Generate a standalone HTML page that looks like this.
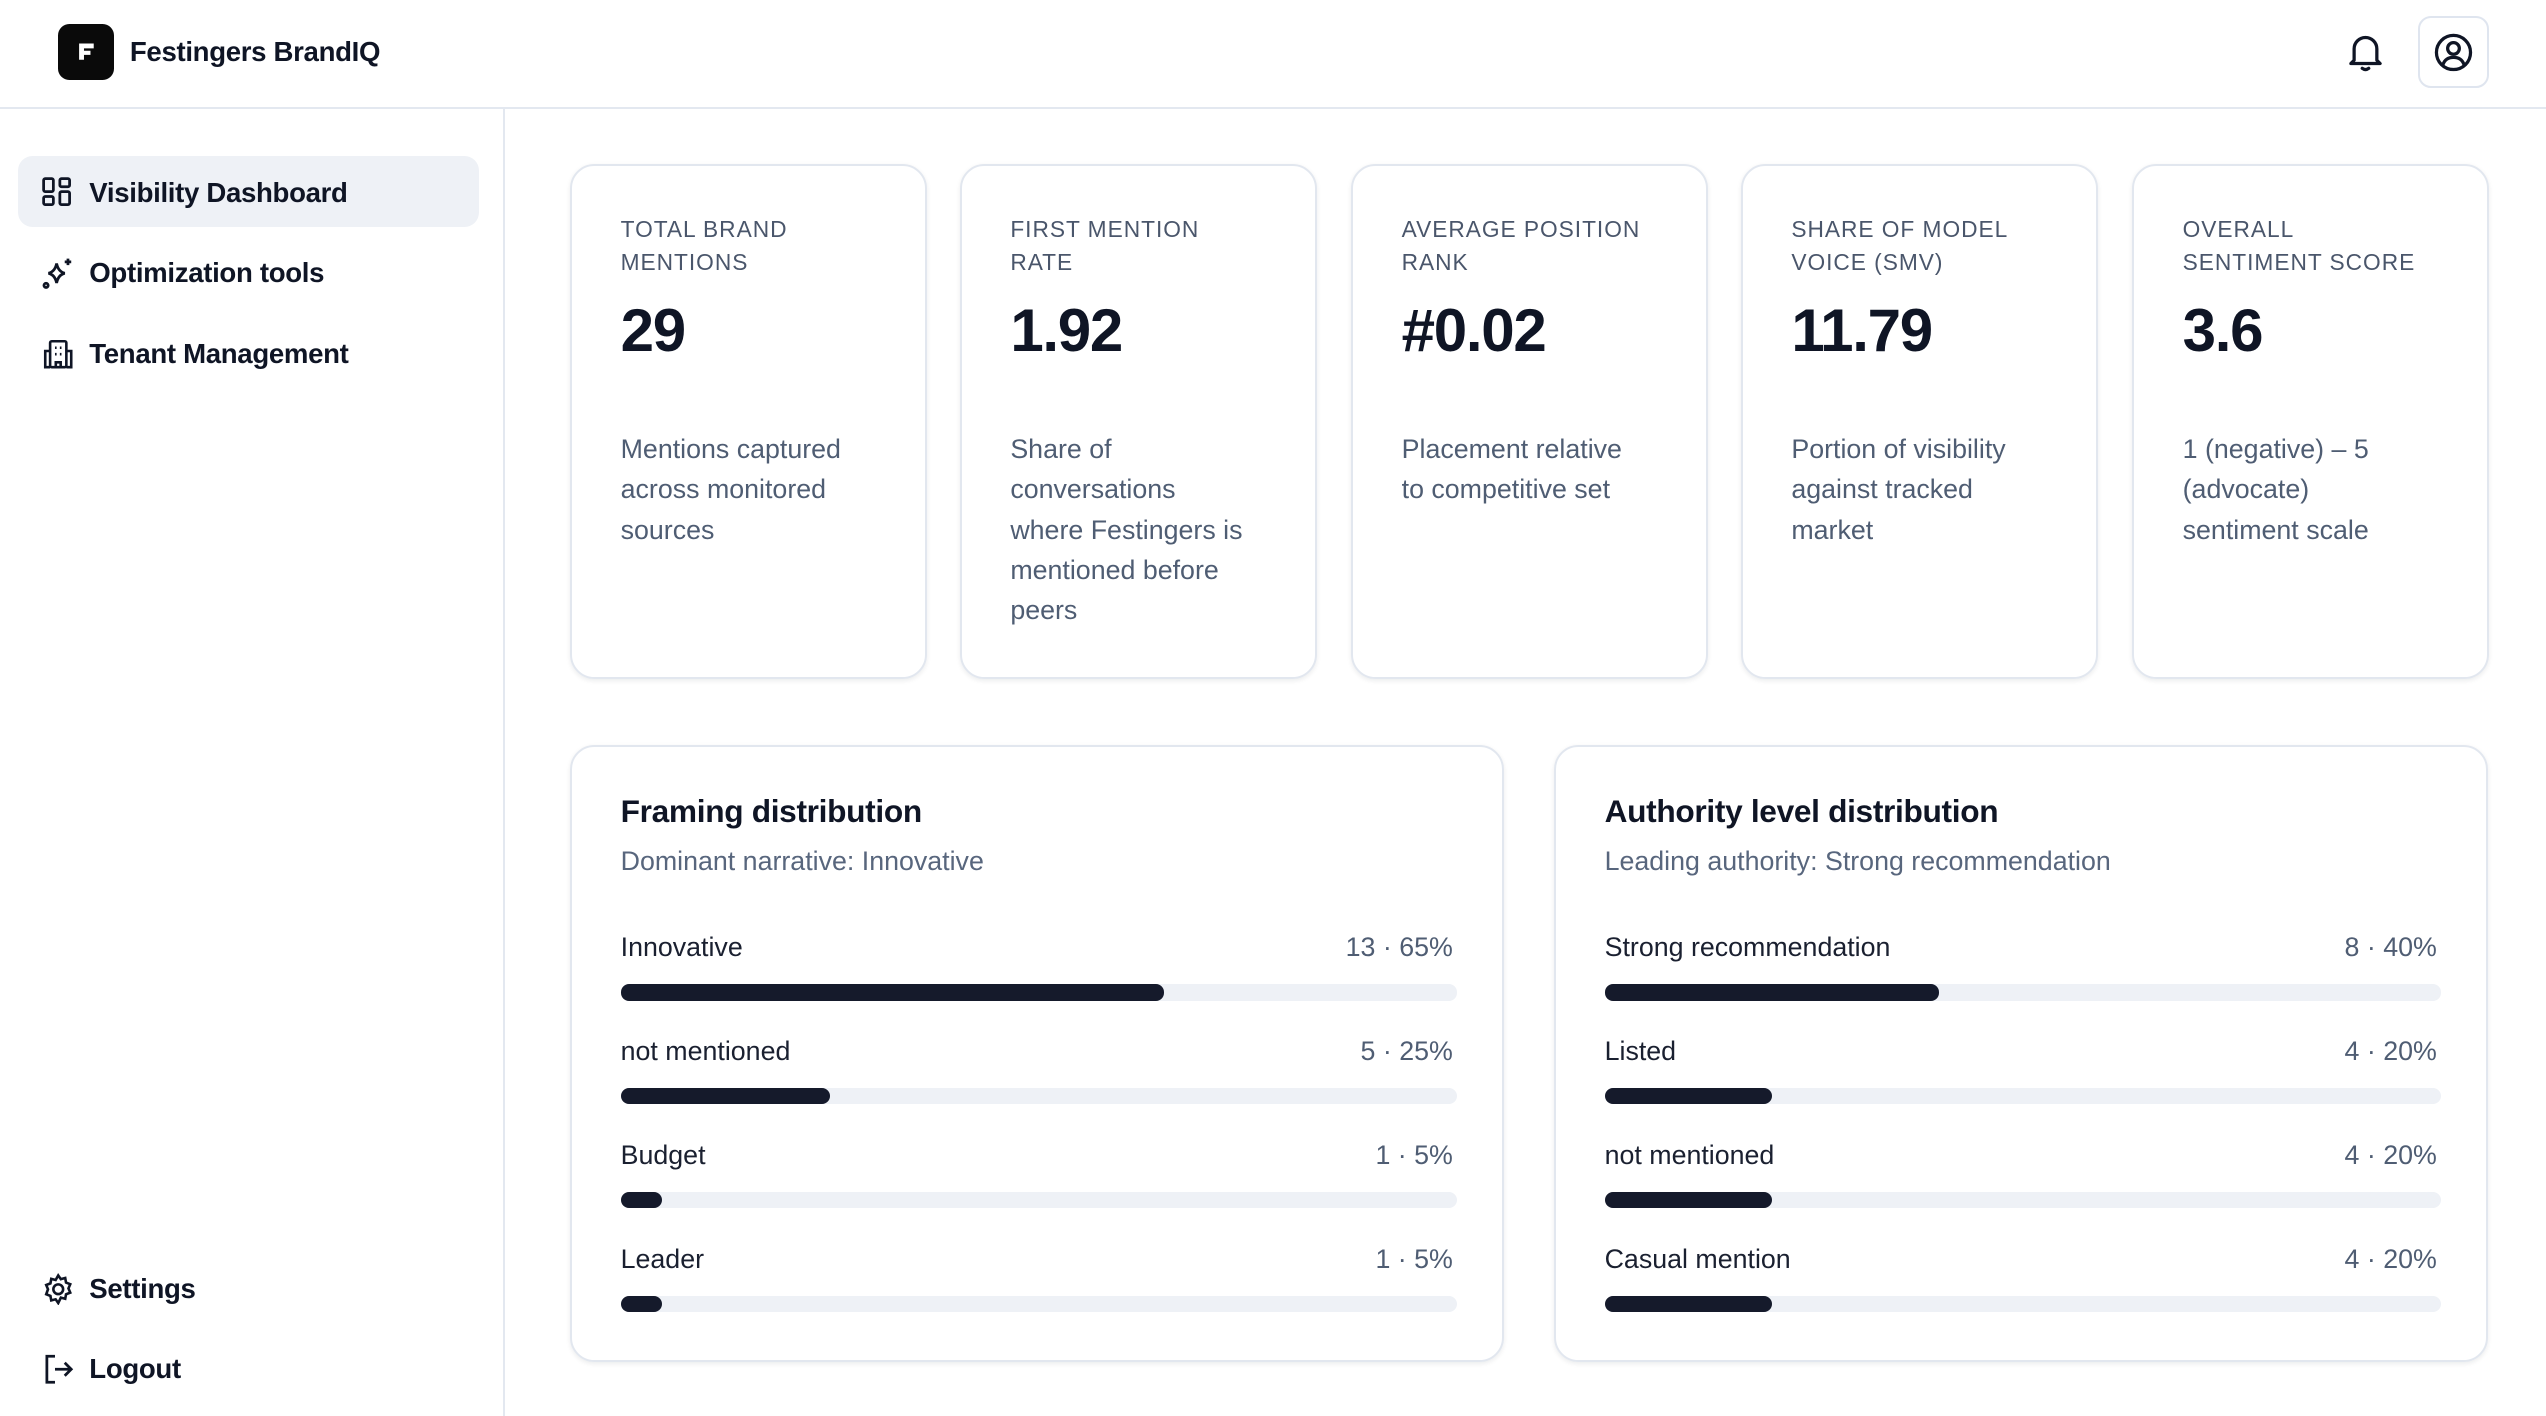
<!DOCTYPE html>
<html><head><meta charset="utf-8">
<style>
*{box-sizing:border-box;margin:0;padding:0}
html,body{width:2546px;height:1416px;overflow:hidden;background:#fff}
#root{zoom:1.62372;width:1568px;height:872px;position:relative;font-family:"Liberation Sans",sans-serif;color:#0f1525}
.abs{position:absolute}
.header{left:0;top:0;width:1568px;height:67px;border-bottom:1.5px solid #e3e8f0}
.logo{left:36px;top:15px;width:34px;height:34px;background:#0a0a0a;border-radius:7px}
.brand{left:80px;top:22px;font-size:17px;font-weight:bold;letter-spacing:-0.2px}
.side{left:0;top:67px;width:311px;height:805px;border-right:1.5px solid #e3e8f0}
.nav{left:11px;width:284px;height:44px;border-radius:9px;font-size:17px;font-weight:bold;letter-spacing:-0.2px}
.nav span{position:absolute;left:44px;top:13px}
.nav svg{position:absolute;left:15px;top:13px}
.card{width:220px;height:317px;top:101px;border:1.5px solid #e2e7ef;border-radius:15px;box-shadow:0 1px 3px rgba(15,23,42,0.08)}
.lbl{position:absolute;left:30px;top:29px;font-size:14px;line-height:20px;color:#4a566b;letter-spacing:0.6px;text-transform:uppercase}
.val{position:absolute;left:30px;top:80px;font-size:37px;font-weight:bold;letter-spacing:-0.8px}
.desc{position:absolute;left:30px;top:162px;font-size:16.5px;line-height:24.8px;color:#4f5d73;width:150px}
.panel{top:459px;width:575px;height:380px;border:1.5px solid #e2e7ef;border-radius:15px;box-shadow:0 1px 3px rgba(15,23,42,0.08)}
.ptitle{position:absolute;left:30px;top:28px;font-size:19.5px;font-weight:bold;letter-spacing:-0.2px}
.psub{position:absolute;left:30px;top:61px;font-size:16.5px;color:#58667d}
.rl{position:absolute;left:30px;font-size:16.5px;color:#1a2030}
.rv{position:absolute;right:30px;font-size:16.5px;color:#4f5d73}
.track{position:absolute;left:30px;width:515px;height:10px;border-radius:5px;background:#eef1f6}
.fill{position:absolute;left:0;top:0;height:10px;border-radius:5px;background:#151a2b}
</style></head><body>
<div id="root">
<div class="abs header">
  <div class="abs logo">
    <svg width="34" height="34" viewBox="0 0 34 34"><path d="M13 12h9v3h-6v1.5h4v2.5h-4v3h-3z" fill="#fff"/></svg>
  </div>
  <div class="abs brand">Festingers BrandIQ</div>
  <svg class="abs" style="left:1445px;top:19px" width="24" height="26" viewBox="0 0 24 26"><path d="M5 18V11a7 7 0 0 1 14 0v7l2 2H3z" fill="none" stroke="#0f1525" stroke-width="2" stroke-linejoin="round"/><path d="M10 23q2 1.5 4 0" fill="none" stroke="#0f1525" stroke-width="2" stroke-linecap="round"/></svg>
  <div class="abs" style="left:1489px;top:10px;width:44px;height:44px;border:1.5px solid #dfe5ef;border-radius:8px">
    <svg style="position:absolute;left:9px;top:9px" width="24" height="24" viewBox="0 0 24 24"><circle cx="12" cy="12" r="10.5" fill="none" stroke="#0f1525" stroke-width="2"/><circle cx="12" cy="9.5" r="3.6" fill="none" stroke="#0f1525" stroke-width="2"/><path d="M5.5 19.5q1.5-4.5 6.5-4.5t6.5 4.5" fill="none" stroke="#0f1525" stroke-width="2"/></svg>
  </div>
</div>
<div class="abs side">
  <div class="abs nav" style="top:29px;background:#eef1f6">
    <svg width="18" height="18" viewBox="0 0 18 18" fill="none" stroke="#0f1525" stroke-width="1.7"><rect x="1" y="1" width="6" height="8" rx="1"/><rect x="11" y="1" width="6" height="5" rx="1"/><rect x="1" y="12" width="6" height="5" rx="1"/><rect x="11" y="9" width="6" height="8" rx="1"/></svg>
    <span>Visibility Dashboard</span></div>
  <div class="abs nav" style="top:78px">
    <svg width="20" height="20" viewBox="0 0 20 20" fill="none" stroke="#0f1525" stroke-width="1.7"><path d="M9 4q1 5 5 6q-4 1-5 6q-1-5-5-6q4-1 5-6z"/><path d="M16 1v4M14 3h4"/><circle cx="2.5" cy="17.5" r="1.3"/></svg>
    <span>Optimization tools</span></div>
  <div class="abs nav" style="top:128px">
    <svg width="20" height="20" viewBox="0 0 20 20" fill="none" stroke="#0f1525" stroke-width="1.6"><rect x="5" y="2" width="10" height="16" rx="1"/><path d="M5 8H2v10h3M15 8h3v10h-3M8 6h1M11 6h1M8 10h1M11 10h1M8.5 18v-3h3v3"/></svg>
    <span>Tenant Management</span></div>
  <div class="abs nav" style="top:704px">
    <svg width="20" height="20" viewBox="0 0 20 20" fill="none" stroke="#0f1525" stroke-width="1.6"><circle cx="10" cy="10" r="3"/><path d="M10 1.5l1.6 2.3 2.7-.7.5 2.8 2.6 1-1.1 2.6 1.1 2.6-2.6 1-.5 2.8-2.7-.7L10 18.5l-1.6-2.3-2.7.7-.5-2.8-2.6-1L3.7 10 2.6 7.4l2.6-1 .5-2.8 2.7.7z"/></svg>
    <span>Settings</span></div>
  <div class="abs nav" style="top:753px">
    <svg width="20" height="20" viewBox="0 0 20 20" fill="none" stroke="#0f1525" stroke-width="1.7"><path d="M8 2H3v16h5M8 10h10M14 6l4 4-4 4"/></svg>
    <span>Logout</span></div>
</div>

<div class="abs card" style="left:351px"><div class="lbl">Total brand<br>mentions</div><div class="val">29</div><div class="desc">Mentions captured across monitored sources</div></div>
<div class="abs card" style="left:591px"><div class="lbl">First mention<br>rate</div><div class="val">1.92</div><div class="desc">Share of conversations where Festingers is mentioned before peers</div></div>
<div class="abs card" style="left:832px"><div class="lbl">Average position<br>rank</div><div class="val">#0.02</div><div class="desc">Placement relative to competitive set</div></div>
<div class="abs card" style="left:1072px"><div class="lbl">Share of model<br>voice (SMV)</div><div class="val">11.79</div><div class="desc">Portion of visibility against tracked market</div></div>
<div class="abs card" style="left:1313px"><div class="lbl">Overall<br>sentiment score</div><div class="val">3.6</div><div class="desc">1 (negative) – 5 (advocate) sentiment scale</div></div>

<div class="abs panel" id="p1" style="left:351px"><div class="ptitle">Framing distribution</div><div class="psub">Dominant narrative: Innovative</div></div>
<div class="abs panel" id="p2" style="left:957px"><div class="ptitle">Authority level distribution</div><div class="psub">Leading authority: Strong recommendation</div></div>
</div>
<script>
const framingLabels = ["Innovative","not mentioned","Budget","Leader"];
const framingCounts = [13,5,1,1];
const framingPcts = [65,25,5,5];
const authorityLabels = ["Strong recommendation","Listed","not mentioned","Casual mention"];
const authorityCounts = [8,4,4,4];
const authorityPcts = [40,20,20,20];
function xScale(p){return 515*p/100;}
function build(id,labels,counts,pcts){
  const p=document.getElementById(id);
  labels.forEach((l,i)=>{
    const y=114+64*i;
    const a=document.createElement('div');a.className='rl';a.style.top=y+'px';a.textContent=l;
    
    
    const b=document.createElement('div');b.className='rv';b.style.top=y+'px';b.textContent=counts[i]+' · '+pcts[i]+'%';
    
    
    const t=document.createElement('div');t.className='track';t.style.top=(y+32)+'px';
    
    
    const f=document.createElement('div');f.className='fill';f.style.width=xScale(pcts[i])+'px';
    
    
    t.appendChild(f);p.appendChild(a);p.appendChild(b);p.appendChild(t);
  });
}
build('p1',framingLabels,framingCounts,framingPcts);
build('p2',authorityLabels,authorityCounts,authorityPcts);
</script>
</body></html>
